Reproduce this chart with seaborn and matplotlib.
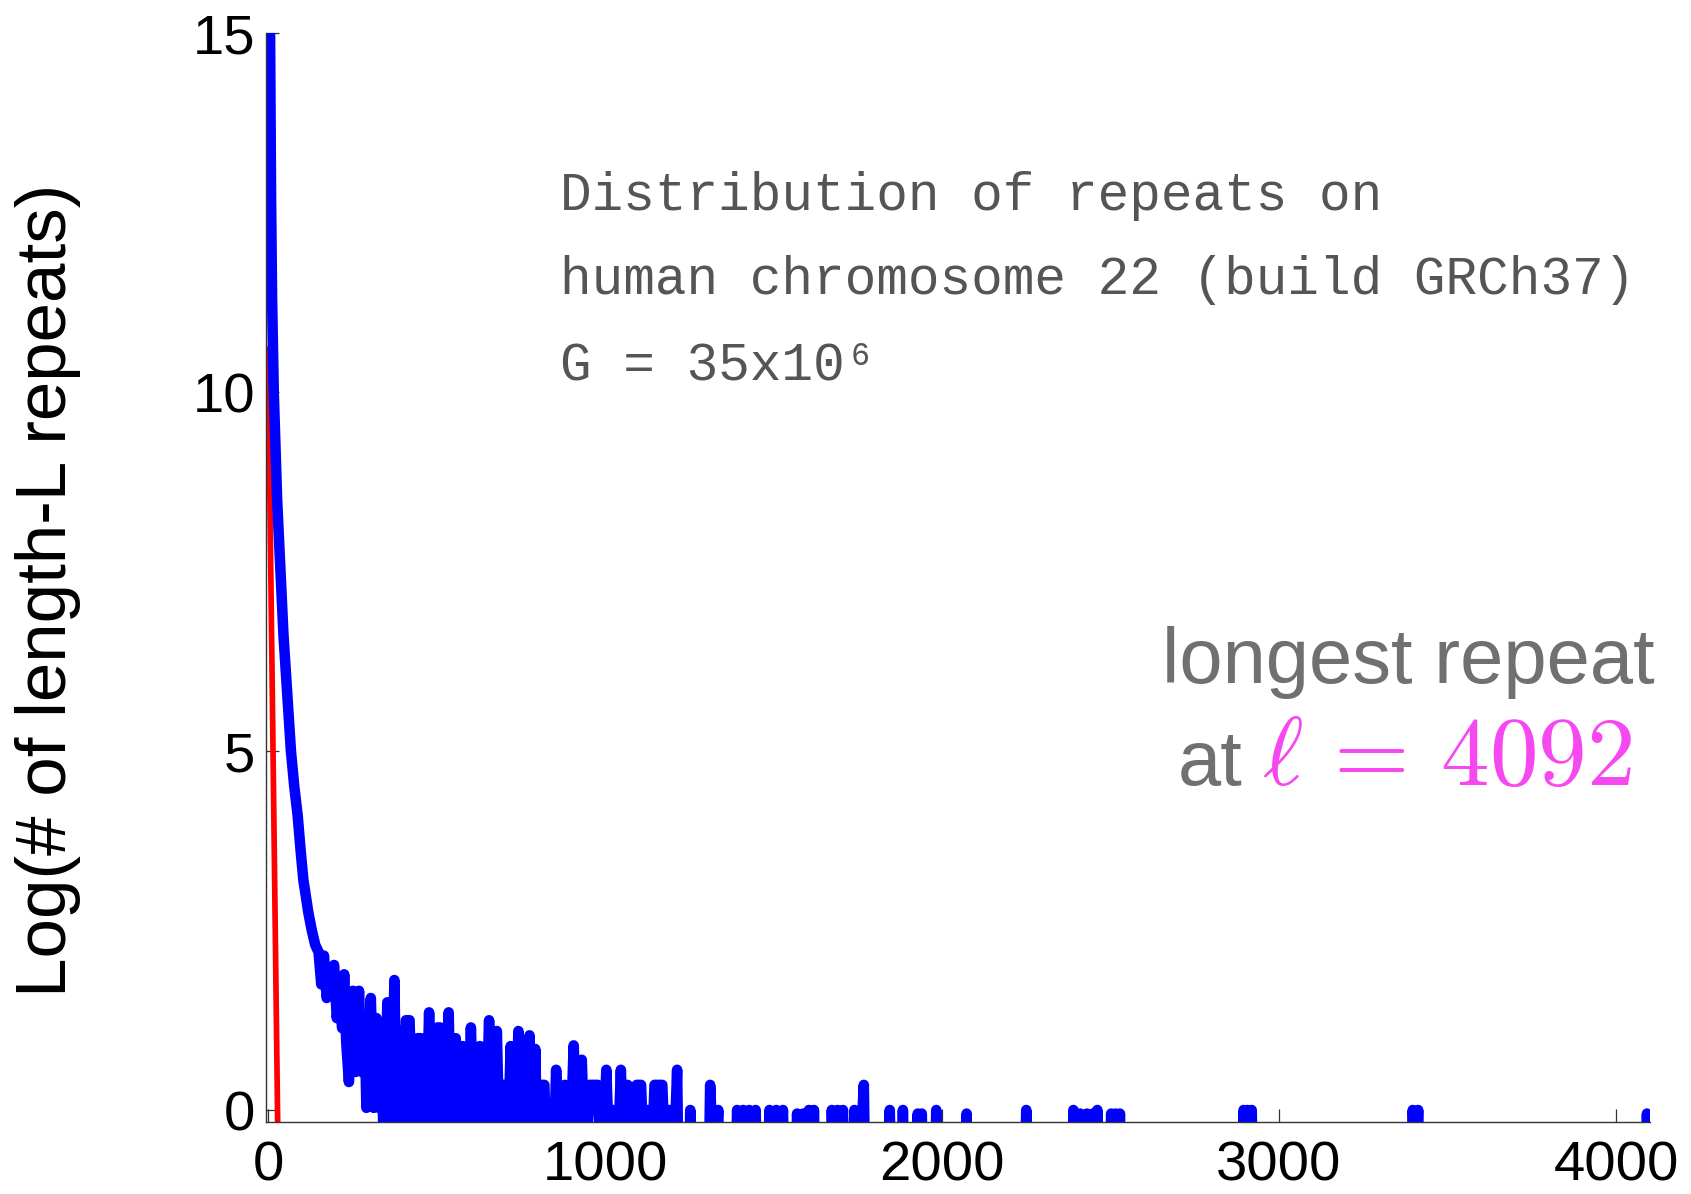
import matplotlib
matplotlib.use('Agg')  # no display
import matplotlib.pyplot as plt
import seaborn as sns
import pandas as pd

# red: expected curve for a random sequence of the same length
random_len = [0, 30]
random_val = [10.6, -0.7]

# blue: observed log-counts, steep head and the dense band that follows it
head_len = [1, 6, 9, 12, 17, 27, 35, 46, 57, 68, 78, 88, 97, 105, 113, 120,
            130, 140, 150, 158, 166, 174, 196, 204, 212, 220, 226, 232, 240,
            252, 260, 270, 278, 286, 292, 305, 314, 322, 330, 336]
head_val = [17.0, 15.0, 12.7, 11.3, 10.0, 8.5, 7.7, 6.6, 5.8, 5.0, 4.5, 4.1,
            3.6, 3.2, 2.95, 2.74, 2.5, 2.3, 2.2, 1.75, 2.15, 1.56, 2.02, 1.28,
            1.6, 1.14, 1.89, 0.95, 0.39, 1.66, 0.53, 1.66, 0.53, 1.3, 0.03,
            1.56, 0.03, 1.28, 0.03, 1.2]

# blue: lengths further out that still have repeats (log-count per length)
peak_len = [354, 375, 392, 414.5, 449, 478, 507, 536, 557, 577,
            602, 629, 656, 679, 699, 720, 743, 759, 776, 793,
            814.5, 837, 855, 881, 907, 931, 966, 1004, 1025, 1047,
            1067, 1077, 1100.5, 1126, 1158.5, 1191, 1214, 1253, 1312, 1336,
            1392, 1410, 1428, 1447, 1488, 1508, 1528, 1570, 1588, 1605,
            1620, 1673, 1690, 1706, 1740, 1768, 1845, 1884, 1928, 1940,
            1983, 2073, 2250, 2390, 2410, 2430, 2448, 2461, 2502, 2515,
            2528, 2895, 2907, 2919, 3397, 3413, 4092]
peak_val = [1.50, 1.81, 1.10, 1.25, 1.00, 1.36, 1.15, 1.36, 1.00, 0.89,
            1.15, 0.89, 1.25, 1.10, 0.35, 0.89, 1.10, 0.32, 1.04, 0.85,
            0.35, 0.00, 0.56, 0.35, 0.90, 0.70, 0.35, 0.56, 0.00, 0.56,
            0.35, 0.00, 0.35, 0.00, 0.35, 0.00, 0.56, 0.00, 0.35, 0.00,
            0.00, 0.00, 0.00, 0.00, 0.00, 0.00, 0.00, -0.05, -0.05, 0.00,
            0.00, 0.00, 0.00, 0.00, 0.00, 0.35, 0.00, 0.00, -0.05, -0.05,
            0.00, -0.05, 0.00, 0.00, -0.05, -0.05, -0.05, 0.00, -0.05, -0.05,
            -0.05, 0.00, 0.00, 0.00, 0.00, 0.00, -0.05]
# runs of consecutive lengths sharing one count (centre -> run width)
plateau = {414.5: 11, 449: 10, 507: 8, 814.5: 11, 966: 24, 1100.5: 13, 1158.5: 23}

NO_REPEAT = -1.0  # log of an empty count, drawn below the axis

x_ticks = [0, 1000, 2000, 3000, 4000]
y_ticks = [0, 5, 10, 15]


def blue_series():
    xs, ys = list(head_len), list(head_val)
    prev = head_len[-1]
    for L, v in zip(peak_len, peak_val):
        w = plateau.get(L, 0)
        lo, hi = L - w / 2, L + w / 2
        gap = lo - prev
        d = gap / 2 if gap <= 30 else 4  # neighbours close together touch
        xs += [prev + d, lo - d]
        ys += [NO_REPEAT, NO_REPEAT]
        if w:
            xs += [lo, hi]
            ys += [v, v]
        else:
            xs.append(L)
            ys.append(v)
        prev = hi
    xs.append(prev + 4)
    ys.append(NO_REPEAT)
    return pd.DataFrame({"length": xs, "log_count": ys})


sns.set_theme(style="ticks")
plt.rcParams["font.family"] = ["Liberation Sans", "DejaVu Sans"]
plt.rcParams["mathtext.fontset"] = "cm"

W, H = 1691, 1194
fig = plt.figure(figsize=(W / 100, H / 100), dpi=100)
ax = fig.add_axes([266 / W, 72 / H, 1384 / W, 1089 / H])

sns.lineplot(x=random_len, y=random_val, color="#ff0000", lw=4.1,
             sort=False, estimator=None, ax=ax)
sns.lineplot(data=blue_series(), x="length", y="log_count", color="#0000ff",
             lw=7.6, sort=False, estimator=None, ax=ax,
             solid_joinstyle="round", solid_capstyle="round")

ax.set_xlim(-6, 4101)
ax.set_ylim(-0.167, 15)
ax.set_xticks(x_ticks)
ax.set_yticks(y_ticks)
ax.set_xlabel("")
ax.set_ylabel("Log(# of length-L repeats)", fontsize=51, color="black")
ax.yaxis.set_label_coords(-0.1337, 0.4885)

sns.despine(ax=ax)
for side in ["left", "bottom"]:
    ax.spines[side].set_color("#333333")
    ax.spines[side].set_linewidth(1.0)
ax.tick_params(direction="in", length=9.4, width=0.9, color="#333333",
               labelsize=40.5, labelcolor="black")
ax.tick_params(axis="x", pad=13)
ax.tick_params(axis="y", pad=8)

# annotation block in the upper part
mono = ["Liberation Mono", "DejaVu Sans Mono"]
grey = "#555555"
fig.text(560 / W, 1 - 210 / H, "Distribution of repeats on", family=mono,
         fontsize=38, color=grey, va="baseline")
fig.text(560 / W, 1 - 294 / H, "human chromosome 22 (build GRCh37)", family=mono,
         fontsize=38, color=grey, va="baseline")
fig.text(560 / W, 1 - 379 / H, "G = 35x10⁶", family=mono,
         fontsize=38, color=grey, va="baseline")

fig.text(1408 / W, 1 - 683 / H, "longest repeat", fontsize=56,
         color="#707070", ha="center", va="baseline")
fig.text(1243 / W, 1 - 785 / H, "at", fontsize=56,
         color="#707070", ha="right", va="baseline")
fig.text(1262 / W, 1 - 785 / H, r"$\ell\, =\, 4092$", fontsize=70,
         color="#f648f0", ha="left", va="baseline")

fig.savefig("out.png", dpi=100)
plt.close(fig)
